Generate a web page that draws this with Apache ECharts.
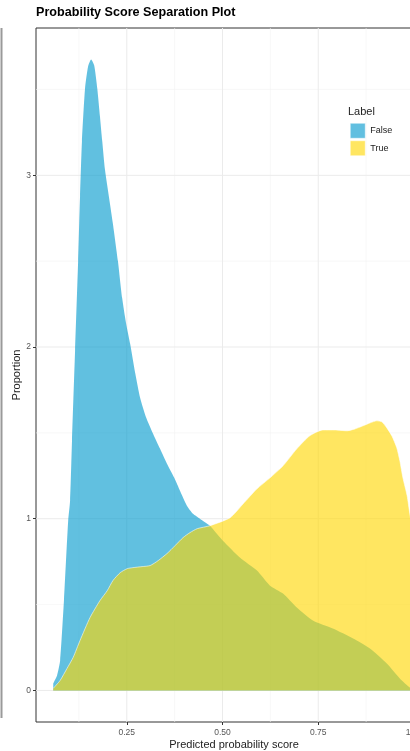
<!DOCTYPE html>
<html>
<head>
<meta charset="utf-8">
<script src="https://cdn.jsdelivr.net/npm/echarts@6/dist/echarts.min.js"></script>
<style>
  html, body { margin: 0; padding: 0; background: #fff; }
  #chart { width: 410px; height: 751px; }
</style>
</head>
<body>
<div id="chart"></div>
<script>
// Density of predicted scores, one curve per true label
const falseScore = [0.058, 0.068, 0.076, 0.086, 0.097, 0.102, 0.107, 0.115, 0.123, 0.128, 0.133, 0.141, 0.149, 0.157,
  0.165, 0.173, 0.180, 0.186, 0.193, 0.204, 0.214, 0.227, 0.238, 0.248, 0.259, 0.272, 0.285, 0.300, 0.319,
  0.337, 0.355, 0.374, 0.389, 0.407, 0.423, 0.441, 0.467, 0.501, 0.546, 0.590, 0.624, 0.658, 0.694, 0.736,
  0.788, 0.841, 0.885, 0.929, 0.963, 0.989, 1.000];
const falseDensity = [0.041, 0.087, 0.174, 0.523, 0.988, 1.105, 1.453, 1.977, 2.500, 2.878, 3.198, 3.506, 3.634, 3.674,
  3.640, 3.506, 3.343, 3.198, 3.035, 2.866, 2.715, 2.500, 2.285, 2.140, 2.017, 1.849, 1.703, 1.593, 1.494,
  1.407, 1.320, 1.238, 1.163, 1.076, 1.029, 1.000, 0.959, 0.872, 0.773, 0.698, 0.610, 0.564, 0.483, 0.407,
  0.360, 0.302, 0.244, 0.157, 0.070, 0.017, 0.006];

const trueScore = [0.058, 0.076, 0.094, 0.110, 0.128, 0.154, 0.180, 0.199, 0.214, 0.233, 0.251, 0.266, 0.290, 0.311,
  0.332, 0.355, 0.376, 0.397, 0.415, 0.434, 0.467, 0.520, 0.554, 0.590, 0.624, 0.658, 0.694, 0.728, 0.762,
  0.794, 0.825, 0.846, 0.867, 0.885, 0.903, 0.916, 0.929, 0.942, 0.955, 0.963, 0.971, 0.982, 0.989, 1.000];
const trueDensity = [0.012, 0.058, 0.128, 0.192, 0.291, 0.424, 0.523, 0.581, 0.640, 0.686, 0.709, 0.715, 0.721, 0.727,
  0.756, 0.797, 0.843, 0.890, 0.919, 0.942, 0.959, 1.006, 1.087, 1.174, 1.238, 1.308, 1.407, 1.483, 1.517,
  1.517, 1.512, 1.523, 1.541, 1.558, 1.570, 1.564, 1.529, 1.483, 1.413, 1.337, 1.238, 1.134, 1.029, 0.872];

const labels = ['False', 'True'];
const xTicks = [0.25, 0.5, 0.75, 1.0];
const xMinor = [0.125, 0.375, 0.625, 0.875];
const yTicks = [0, 1, 2, 3];
const yMinor = [0.5, 1.5, 2.5, 3.5];

const pairs = (xs, ys) => xs.map((x, i) => [x, ys[i]]);

const FONT = '"Liberation Sans", Arial, sans-serif';
const blueFill = 'rgba(0,154,205,0.62)';
const goldFill = 'rgba(255,215,0,0.62)';

// grid line records: [value, axis (0 = x, 1 = y), major flag]
const gridRecords = [
  ...xMinor.map(v => [v, 0, 0]),
  ...yMinor.map(v => [v, 1, 0]),
  ...xTicks.map(v => [v, 0, 1]),
  ...yTicks.map(v => [v, 1, 1])
];

const chart = echarts.init(document.getElementById('chart'), null, { renderer: 'canvas' });

chart.setOption({
  animation: false,
  backgroundColor: '#ffffff',
  textStyle: { fontFamily: FONT },
  title: [
    {
      text: 'Probability Score Separation Plot',
      left: 36, top: 6, padding: 0,
      textStyle: { fontSize: 12.6, fontWeight: 'bold', color: '#000', fontFamily: FONT }
    },
    {
      text: 'Label',
      left: 348, top: 106, padding: 0,
      textStyle: { fontSize: 11, fontWeight: 'normal', color: '#222', fontFamily: FONT }
    }
  ],
  legend: {
    orient: 'vertical',
    left: 350, top: 123, padding: 0,
    itemWidth: 15, itemHeight: 15, itemGap: 2,
    icon: 'rect',
    textStyle: { fontSize: 9, color: '#222', fontFamily: FONT },
    data: [
      { name: labels[0], itemStyle: { color: '#61BFE0', borderColor: '#fff', borderWidth: 0.5 } },
      { name: labels[1], itemStyle: { color: '#FFE661', borderColor: '#fff', borderWidth: 0.5 } }
    ]
  },
  grid: {
    left: 36, top: 28, right: -22, bottom: 29,
    outerBoundsMode: 'none',
    containLabel: false,
    show: true, borderColor: '#333', borderWidth: 1, backgroundColor: '#fff'
  },
  xAxis: {
    type: 'value',
    min: 0.013, max: 1.047,
    name: 'Predicted probability score',
    nameLocation: 'middle', nameGap: 17,
    nameMoveOverlap: false,
    nameTextStyle: { fontSize: 11, color: '#222', fontFamily: FONT },
    axisLine: { show: false, onZero: false },
    axisTick: { show: true, length: 3, lineStyle: { color: '#333' }, customValues: xTicks },
    axisLabel: {
      show: true, margin: 6, fontSize: 8.5, color: '#555', fontFamily: FONT,
      customValues: xTicks,
      formatter: v => v.toFixed(2)
    },
    splitLine: { show: false }
  },
  yAxis: {
    type: 'value',
    min: -0.184, max: 3.858,
    name: 'Proportion',
    nameLocation: 'middle', nameGap: 14,
    nameMoveOverlap: false,
    nameTextStyle: { fontSize: 11, color: '#222', fontFamily: FONT },
    axisLine: { show: false, onZero: false },
    axisTick: { show: true, length: 3, lineStyle: { color: '#333' }, customValues: yTicks },
    axisLabel: {
      show: true, margin: 5, fontSize: 8.5, color: '#555', fontFamily: FONT,
      customValues: yTicks,
      formatter: v => String(Math.round(v))
    },
    splitLine: { show: false }
  },
  series: [
    {
      // background grid lines, drawn under the density areas
      type: 'custom',
      silent: true,
      z: 1,
      data: gridRecords,
      encode: { x: -1, y: -1 },
      renderItem: (params, api) => {
        const v = api.value(0);
        const isY = api.value(1) === 1;
        const major = api.value(2) === 1;
        const cs = params.coordSys;
        let shape;
        if (isY) {
          const p = api.coord([0.5, v]);
          shape = { x1: cs.x, y1: p[1], x2: cs.x + cs.width, y2: p[1] };
        } else {
          const p = api.coord([v, 0]);
          shape = { x1: p[0], y1: cs.y, x2: p[0], y2: cs.y + cs.height };
        }
        return {
          type: 'line',
          shape,
          style: { stroke: major ? '#EBEBEB' : '#F3F3F3', lineWidth: major ? 1 : 0.6 }
        };
      }
    },
    {
      name: labels[0],
      type: 'line',
      z: 2,
      data: pairs(falseScore, falseDensity),
      showSymbol: false,
      symbol: 'none',
      smooth: 0.2,
      lineStyle: { width: 0 },
      itemStyle: { color: '#61BFE0' },
      areaStyle: { color: blueFill, opacity: 1 }
    },
    {
      name: labels[1],
      type: 'line',
      z: 3,
      data: pairs(trueScore, trueDensity),
      showSymbol: false,
      symbol: 'none',
      smooth: 0.2,
      lineStyle: { width: 0.8, color: 'rgba(255,255,255,0.7)' },
      itemStyle: { color: '#FFE661' },
      areaStyle: { color: goldFill, opacity: 1 }
    }
  ],
  graphic: [
    {
      type: 'line',
      shape: { x1: 1.5, y1: 28, x2: 1.5, y2: 718 },
      style: { stroke: '#9a9a9a', lineWidth: 2 },
      silent: true
    }
  ]
});
</script>
</body>
</html>
